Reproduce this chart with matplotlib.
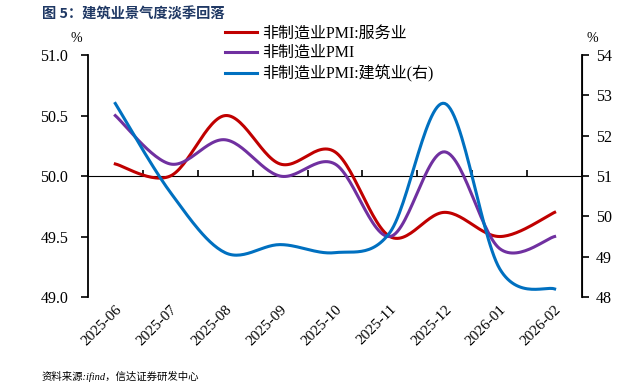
import numpy as np
import matplotlib
matplotlib.use("Agg")
import matplotlib.pyplot as plt

plt.rcParams['font.family'] = ['Liberation Serif', 'Noto Sans CJK SC']

months = ["2025-06", "2025-07", "2025-08", "2025-09", "2025-10",
          "2025-11", "2025-12", "2026-01", "2026-02"]
services = [50.1, 50.0, 50.5, 50.1, 50.2, 49.5, 49.7, 49.5, 49.7]
non_mfg = [50.5, 50.1, 50.3, 50.0, 50.1, 49.5, 50.2, 49.4, 49.5]
construction = [52.8, 50.6, 49.1, 49.3, 49.1, 49.6, 52.8, 48.7, 48.2]


def smooth(xs, ys, n=30):
    # Excel-style smoothed line: cubic bezier through each point
    xs = np.asarray(xs, float)
    ys = np.asarray(ys, float)
    px, py = [], []
    m = len(xs)
    for i in range(m - 1):
        x0, y0 = xs[max(i - 1, 0)], ys[max(i - 1, 0)]
        x1, y1 = xs[i], ys[i]
        x2, y2 = xs[i + 1], ys[i + 1]
        x3, y3 = xs[min(i + 2, m - 1)], ys[min(i + 2, m - 1)]
        c1x, c1y = x1 + (x2 - x0) / 6, y1 + (y2 - y0) / 6
        c2x, c2y = x2 - (x3 - x1) / 6, y2 - (y3 - y1) / 6
        t = np.linspace(0, 1, n)
        a, b, c, d = (1 - t) ** 3, 3 * (1 - t) ** 2 * t, 3 * (1 - t) * t ** 2, t ** 3
        px.extend(a * x1 + b * c1x + c * c2x + d * x2)
        py.extend(a * y1 + b * c1y + c * c2y + d * y2)
    return np.array(px), np.array(py)


x = np.arange(len(months))

fig = plt.figure(figsize=(6.32, 3.88), dpi=100)
ax = fig.add_axes([0.139, 0.2345, 0.782, 0.6235])
ax2 = ax.twinx()

l1, = ax.plot(*smooth(x, services), color="#C00000", lw=2.2, label="非制造业PMI:服务业")
l2, = ax.plot(*smooth(x, non_mfg), color="#7030A0", lw=2.2, label="非制造业PMI")
l3, = ax2.plot(*smooth(x, construction), color="#0070C0", lw=2.2, label="非制造业PMI:建筑业(右)")

ax.set_xlim(-0.5, len(months) - 0.5)
ax.set_ylim(49.0, 51.0)
ax.set_yticks([49.0, 49.5, 50.0, 50.5, 51.0])
ax.set_yticklabels(["49.0", "49.5", "50.0", "50.5", "51.0"])
ax2.set_ylim(48, 54)
ax2.set_yticks(range(48, 55))

for a in (ax, ax2):
    a.spines['top'].set_visible(False)
    a.spines['bottom'].set_visible(False)
ax.tick_params(axis='y', direction='out', length=5, width=1.2, labelsize=11.5, pad=9)
ax2.tick_params(axis='y', direction='out', length=5, width=1.2, labelsize=11.5, pad=5)
ax.spines['left'].set_linewidth(1.3)
ax2.spines['right'].set_linewidth(1.3)
ax2.spines['left'].set_visible(False)

ax.set_xticks(x)
ax.set_xticklabels(months, rotation=45, ha='right', va='top', rotation_mode='anchor')
ax.tick_params(axis='x', length=0, labelsize=11, pad=4)

# axis line at 50 with category boundary ticks
sec = ax.secondary_xaxis(0.5)
sec.set_xticks(np.arange(len(months) + 1) - 0.5)
sec.set_xticklabels([])
sec.tick_params(axis='x', direction='out', length=4, width=1.2)
sec.spines['bottom'].set_linewidth(1.3)

fig.text(0.120, 0.893, "%", fontsize=10, ha='center')
fig.text(0.937, 0.893, "%", fontsize=10, ha='center')

fig.text(0.066, 0.963, "图 5：建筑业景气度淡季回落", fontsize=10.3, fontweight='bold',
         color="#1F3864", va='center', family=['Noto Sans CJK SC'])
fig.text(0.066, 0.031, "资料来源:ifind，信达证券研发中心", fontsize=7.5, style='italic',
         va='center', family=['Liberation Serif', 'Noto Sans CJK SC'])

fig.legend(handles=[l1, l2, l3], loc='upper left', bbox_to_anchor=(0.356, 0.935),
           frameon=False, fontsize=11.5, borderpad=0, borderaxespad=0,
           handlelength=2.0, handletextpad=0.3, labelspacing=0.25)

fig.savefig("out.png", dpi=100)
